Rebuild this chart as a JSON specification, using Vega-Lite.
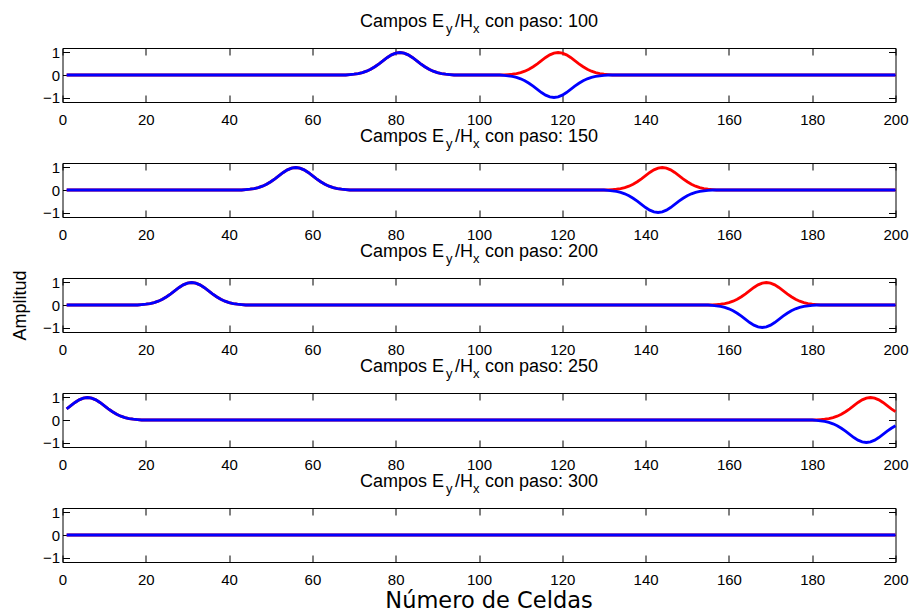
{
"$schema": "https://vega.github.io/schema/vega-lite/v6.json",
"background": "white",
"padding": {"left": 10.5, "top": 13, "right": 3, "bottom": 0},
"spacing": 61,
"bounds": "flush",
"datasets": {"curves": [
{"p":100,"c":"E","x":1,"v":0},
{"p":100,"c":"E","x":68,"v":0},{"p":100,"c":"E","x":69,"v":0.018},{"p":100,"c":"E","x":70,"v":0.035},{"p":100,"c":"E","x":71,"v":0.062},{"p":100,"c":"E","x":72,"v":0.105},{"p":100,"c":"E","x":73,"v":0.169},{"p":100,"c":"E","x":74,"v":0.256},{"p":100,"c":"E","x":75,"v":0.368},{"p":100,"c":"E","x":76,"v":0.499},{"p":100,"c":"E","x":77,"v":0.641},{"p":100,"c":"E","x":78,"v":0.779},{"p":100,"c":"E","x":79,"v":0.895},{"p":100,"c":"E","x":80,"v":0.973},{"p":100,"c":"E","x":81,"v":1},{"p":100,"c":"E","x":82,"v":0.973},{"p":100,"c":"E","x":83,"v":0.895},{"p":100,"c":"E","x":84,"v":0.779},{"p":100,"c":"E","x":85,"v":0.641},{"p":100,"c":"E","x":86,"v":0.499},{"p":100,"c":"E","x":87,"v":0.368},{"p":100,"c":"E","x":88,"v":0.256},{"p":100,"c":"E","x":89,"v":0.169},{"p":100,"c":"E","x":90,"v":0.105},{"p":100,"c":"E","x":91,"v":0.062},{"p":100,"c":"E","x":92,"v":0.035},{"p":100,"c":"E","x":93,"v":0.018},{"p":100,"c":"E","x":94,"v":0},
{"p":100,"c":"E","x":106,"v":0},{"p":100,"c":"E","x":107,"v":0.018},{"p":100,"c":"E","x":108,"v":0.035},{"p":100,"c":"E","x":109,"v":0.062},{"p":100,"c":"E","x":110,"v":0.105},{"p":100,"c":"E","x":111,"v":0.169},{"p":100,"c":"E","x":112,"v":0.256},{"p":100,"c":"E","x":113,"v":0.368},{"p":100,"c":"E","x":114,"v":0.499},{"p":100,"c":"E","x":115,"v":0.641},{"p":100,"c":"E","x":116,"v":0.779},{"p":100,"c":"E","x":117,"v":0.895},{"p":100,"c":"E","x":118,"v":0.973},{"p":100,"c":"E","x":119,"v":1},{"p":100,"c":"E","x":120,"v":0.973},{"p":100,"c":"E","x":121,"v":0.895},{"p":100,"c":"E","x":122,"v":0.779},{"p":100,"c":"E","x":123,"v":0.641},{"p":100,"c":"E","x":124,"v":0.499},{"p":100,"c":"E","x":125,"v":0.368},{"p":100,"c":"E","x":126,"v":0.256},{"p":100,"c":"E","x":127,"v":0.169},{"p":100,"c":"E","x":128,"v":0.105},{"p":100,"c":"E","x":129,"v":0.062},{"p":100,"c":"E","x":130,"v":0.035},{"p":100,"c":"E","x":131,"v":0.018},{"p":100,"c":"E","x":132,"v":0},
{"p":100,"c":"E","x":200,"v":0},
{"p":100,"c":"H","x":1,"v":0},
{"p":100,"c":"H","x":68,"v":0},{"p":100,"c":"H","x":69,"v":0.018},{"p":100,"c":"H","x":70,"v":0.035},{"p":100,"c":"H","x":71,"v":0.062},{"p":100,"c":"H","x":72,"v":0.105},{"p":100,"c":"H","x":73,"v":0.169},{"p":100,"c":"H","x":74,"v":0.256},{"p":100,"c":"H","x":75,"v":0.368},{"p":100,"c":"H","x":76,"v":0.499},{"p":100,"c":"H","x":77,"v":0.641},{"p":100,"c":"H","x":78,"v":0.779},{"p":100,"c":"H","x":79,"v":0.895},{"p":100,"c":"H","x":80,"v":0.973},{"p":100,"c":"H","x":81,"v":1},{"p":100,"c":"H","x":82,"v":0.973},{"p":100,"c":"H","x":83,"v":0.895},{"p":100,"c":"H","x":84,"v":0.779},{"p":100,"c":"H","x":85,"v":0.641},{"p":100,"c":"H","x":86,"v":0.499},{"p":100,"c":"H","x":87,"v":0.368},{"p":100,"c":"H","x":88,"v":0.256},{"p":100,"c":"H","x":89,"v":0.169},{"p":100,"c":"H","x":90,"v":0.105},{"p":100,"c":"H","x":91,"v":0.062},{"p":100,"c":"H","x":92,"v":0.035},{"p":100,"c":"H","x":93,"v":0.018},{"p":100,"c":"H","x":94,"v":0},
{"p":100,"c":"H","x":105,"v":0},{"p":100,"c":"H","x":106,"v":-0.018},{"p":100,"c":"H","x":107,"v":-0.035},{"p":100,"c":"H","x":108,"v":-0.062},{"p":100,"c":"H","x":109,"v":-0.105},{"p":100,"c":"H","x":110,"v":-0.169},{"p":100,"c":"H","x":111,"v":-0.256},{"p":100,"c":"H","x":112,"v":-0.368},{"p":100,"c":"H","x":113,"v":-0.499},{"p":100,"c":"H","x":114,"v":-0.641},{"p":100,"c":"H","x":115,"v":-0.779},{"p":100,"c":"H","x":116,"v":-0.895},{"p":100,"c":"H","x":117,"v":-0.973},{"p":100,"c":"H","x":118,"v":-1},{"p":100,"c":"H","x":119,"v":-0.973},{"p":100,"c":"H","x":120,"v":-0.895},{"p":100,"c":"H","x":121,"v":-0.779},{"p":100,"c":"H","x":122,"v":-0.641},{"p":100,"c":"H","x":123,"v":-0.499},{"p":100,"c":"H","x":124,"v":-0.368},{"p":100,"c":"H","x":125,"v":-0.256},{"p":100,"c":"H","x":126,"v":-0.169},{"p":100,"c":"H","x":127,"v":-0.105},{"p":100,"c":"H","x":128,"v":-0.062},{"p":100,"c":"H","x":129,"v":-0.035},{"p":100,"c":"H","x":130,"v":-0.018},{"p":100,"c":"H","x":131,"v":0},
{"p":100,"c":"H","x":200,"v":0},
{"p":150,"c":"E","x":1,"v":0},
{"p":150,"c":"E","x":43,"v":0},{"p":150,"c":"E","x":44,"v":0.018},{"p":150,"c":"E","x":45,"v":0.035},{"p":150,"c":"E","x":46,"v":0.062},{"p":150,"c":"E","x":47,"v":0.105},{"p":150,"c":"E","x":48,"v":0.169},{"p":150,"c":"E","x":49,"v":0.256},{"p":150,"c":"E","x":50,"v":0.368},{"p":150,"c":"E","x":51,"v":0.499},{"p":150,"c":"E","x":52,"v":0.641},{"p":150,"c":"E","x":53,"v":0.779},{"p":150,"c":"E","x":54,"v":0.895},{"p":150,"c":"E","x":55,"v":0.973},{"p":150,"c":"E","x":56,"v":1},{"p":150,"c":"E","x":57,"v":0.973},{"p":150,"c":"E","x":58,"v":0.895},{"p":150,"c":"E","x":59,"v":0.779},{"p":150,"c":"E","x":60,"v":0.641},{"p":150,"c":"E","x":61,"v":0.499},{"p":150,"c":"E","x":62,"v":0.368},{"p":150,"c":"E","x":63,"v":0.256},{"p":150,"c":"E","x":64,"v":0.169},{"p":150,"c":"E","x":65,"v":0.105},{"p":150,"c":"E","x":66,"v":0.062},{"p":150,"c":"E","x":67,"v":0.035},{"p":150,"c":"E","x":68,"v":0.018},{"p":150,"c":"E","x":69,"v":0},
{"p":150,"c":"E","x":131,"v":0},{"p":150,"c":"E","x":132,"v":0.018},{"p":150,"c":"E","x":133,"v":0.035},{"p":150,"c":"E","x":134,"v":0.062},{"p":150,"c":"E","x":135,"v":0.105},{"p":150,"c":"E","x":136,"v":0.169},{"p":150,"c":"E","x":137,"v":0.256},{"p":150,"c":"E","x":138,"v":0.368},{"p":150,"c":"E","x":139,"v":0.499},{"p":150,"c":"E","x":140,"v":0.641},{"p":150,"c":"E","x":141,"v":0.779},{"p":150,"c":"E","x":142,"v":0.895},{"p":150,"c":"E","x":143,"v":0.973},{"p":150,"c":"E","x":144,"v":1},{"p":150,"c":"E","x":145,"v":0.973},{"p":150,"c":"E","x":146,"v":0.895},{"p":150,"c":"E","x":147,"v":0.779},{"p":150,"c":"E","x":148,"v":0.641},{"p":150,"c":"E","x":149,"v":0.499},{"p":150,"c":"E","x":150,"v":0.368},{"p":150,"c":"E","x":151,"v":0.256},{"p":150,"c":"E","x":152,"v":0.169},{"p":150,"c":"E","x":153,"v":0.105},{"p":150,"c":"E","x":154,"v":0.062},{"p":150,"c":"E","x":155,"v":0.035},{"p":150,"c":"E","x":156,"v":0.018},{"p":150,"c":"E","x":157,"v":0},
{"p":150,"c":"E","x":200,"v":0},
{"p":150,"c":"H","x":1,"v":0},
{"p":150,"c":"H","x":43,"v":0},{"p":150,"c":"H","x":44,"v":0.018},{"p":150,"c":"H","x":45,"v":0.035},{"p":150,"c":"H","x":46,"v":0.062},{"p":150,"c":"H","x":47,"v":0.105},{"p":150,"c":"H","x":48,"v":0.169},{"p":150,"c":"H","x":49,"v":0.256},{"p":150,"c":"H","x":50,"v":0.368},{"p":150,"c":"H","x":51,"v":0.499},{"p":150,"c":"H","x":52,"v":0.641},{"p":150,"c":"H","x":53,"v":0.779},{"p":150,"c":"H","x":54,"v":0.895},{"p":150,"c":"H","x":55,"v":0.973},{"p":150,"c":"H","x":56,"v":1},{"p":150,"c":"H","x":57,"v":0.973},{"p":150,"c":"H","x":58,"v":0.895},{"p":150,"c":"H","x":59,"v":0.779},{"p":150,"c":"H","x":60,"v":0.641},{"p":150,"c":"H","x":61,"v":0.499},{"p":150,"c":"H","x":62,"v":0.368},{"p":150,"c":"H","x":63,"v":0.256},{"p":150,"c":"H","x":64,"v":0.169},{"p":150,"c":"H","x":65,"v":0.105},{"p":150,"c":"H","x":66,"v":0.062},{"p":150,"c":"H","x":67,"v":0.035},{"p":150,"c":"H","x":68,"v":0.018},{"p":150,"c":"H","x":69,"v":0},
{"p":150,"c":"H","x":130,"v":0},{"p":150,"c":"H","x":131,"v":-0.018},{"p":150,"c":"H","x":132,"v":-0.035},{"p":150,"c":"H","x":133,"v":-0.062},{"p":150,"c":"H","x":134,"v":-0.105},{"p":150,"c":"H","x":135,"v":-0.169},{"p":150,"c":"H","x":136,"v":-0.256},{"p":150,"c":"H","x":137,"v":-0.368},{"p":150,"c":"H","x":138,"v":-0.499},{"p":150,"c":"H","x":139,"v":-0.641},{"p":150,"c":"H","x":140,"v":-0.779},{"p":150,"c":"H","x":141,"v":-0.895},{"p":150,"c":"H","x":142,"v":-0.973},{"p":150,"c":"H","x":143,"v":-1},{"p":150,"c":"H","x":144,"v":-0.973},{"p":150,"c":"H","x":145,"v":-0.895},{"p":150,"c":"H","x":146,"v":-0.779},{"p":150,"c":"H","x":147,"v":-0.641},{"p":150,"c":"H","x":148,"v":-0.499},{"p":150,"c":"H","x":149,"v":-0.368},{"p":150,"c":"H","x":150,"v":-0.256},{"p":150,"c":"H","x":151,"v":-0.169},{"p":150,"c":"H","x":152,"v":-0.105},{"p":150,"c":"H","x":153,"v":-0.062},{"p":150,"c":"H","x":154,"v":-0.035},{"p":150,"c":"H","x":155,"v":-0.018},{"p":150,"c":"H","x":156,"v":0},
{"p":150,"c":"H","x":200,"v":0},
{"p":200,"c":"E","x":1,"v":0},
{"p":200,"c":"E","x":18,"v":0},{"p":200,"c":"E","x":19,"v":0.018},{"p":200,"c":"E","x":20,"v":0.035},{"p":200,"c":"E","x":21,"v":0.062},{"p":200,"c":"E","x":22,"v":0.105},{"p":200,"c":"E","x":23,"v":0.169},{"p":200,"c":"E","x":24,"v":0.256},{"p":200,"c":"E","x":25,"v":0.368},{"p":200,"c":"E","x":26,"v":0.499},{"p":200,"c":"E","x":27,"v":0.641},{"p":200,"c":"E","x":28,"v":0.779},{"p":200,"c":"E","x":29,"v":0.895},{"p":200,"c":"E","x":30,"v":0.973},{"p":200,"c":"E","x":31,"v":1},{"p":200,"c":"E","x":32,"v":0.973},{"p":200,"c":"E","x":33,"v":0.895},{"p":200,"c":"E","x":34,"v":0.779},{"p":200,"c":"E","x":35,"v":0.641},{"p":200,"c":"E","x":36,"v":0.499},{"p":200,"c":"E","x":37,"v":0.368},{"p":200,"c":"E","x":38,"v":0.256},{"p":200,"c":"E","x":39,"v":0.169},{"p":200,"c":"E","x":40,"v":0.105},{"p":200,"c":"E","x":41,"v":0.062},{"p":200,"c":"E","x":42,"v":0.035},{"p":200,"c":"E","x":43,"v":0.018},{"p":200,"c":"E","x":44,"v":0},
{"p":200,"c":"E","x":156,"v":0},{"p":200,"c":"E","x":157,"v":0.018},{"p":200,"c":"E","x":158,"v":0.035},{"p":200,"c":"E","x":159,"v":0.062},{"p":200,"c":"E","x":160,"v":0.105},{"p":200,"c":"E","x":161,"v":0.169},{"p":200,"c":"E","x":162,"v":0.256},{"p":200,"c":"E","x":163,"v":0.368},{"p":200,"c":"E","x":164,"v":0.499},{"p":200,"c":"E","x":165,"v":0.641},{"p":200,"c":"E","x":166,"v":0.779},{"p":200,"c":"E","x":167,"v":0.895},{"p":200,"c":"E","x":168,"v":0.973},{"p":200,"c":"E","x":169,"v":1},{"p":200,"c":"E","x":170,"v":0.973},{"p":200,"c":"E","x":171,"v":0.895},{"p":200,"c":"E","x":172,"v":0.779},{"p":200,"c":"E","x":173,"v":0.641},{"p":200,"c":"E","x":174,"v":0.499},{"p":200,"c":"E","x":175,"v":0.368},{"p":200,"c":"E","x":176,"v":0.256},{"p":200,"c":"E","x":177,"v":0.169},{"p":200,"c":"E","x":178,"v":0.105},{"p":200,"c":"E","x":179,"v":0.062},{"p":200,"c":"E","x":180,"v":0.035},{"p":200,"c":"E","x":181,"v":0.018},{"p":200,"c":"E","x":182,"v":0},
{"p":200,"c":"E","x":200,"v":0},
{"p":200,"c":"H","x":1,"v":0},
{"p":200,"c":"H","x":18,"v":0},{"p":200,"c":"H","x":19,"v":0.018},{"p":200,"c":"H","x":20,"v":0.035},{"p":200,"c":"H","x":21,"v":0.062},{"p":200,"c":"H","x":22,"v":0.105},{"p":200,"c":"H","x":23,"v":0.169},{"p":200,"c":"H","x":24,"v":0.256},{"p":200,"c":"H","x":25,"v":0.368},{"p":200,"c":"H","x":26,"v":0.499},{"p":200,"c":"H","x":27,"v":0.641},{"p":200,"c":"H","x":28,"v":0.779},{"p":200,"c":"H","x":29,"v":0.895},{"p":200,"c":"H","x":30,"v":0.973},{"p":200,"c":"H","x":31,"v":1},{"p":200,"c":"H","x":32,"v":0.973},{"p":200,"c":"H","x":33,"v":0.895},{"p":200,"c":"H","x":34,"v":0.779},{"p":200,"c":"H","x":35,"v":0.641},{"p":200,"c":"H","x":36,"v":0.499},{"p":200,"c":"H","x":37,"v":0.368},{"p":200,"c":"H","x":38,"v":0.256},{"p":200,"c":"H","x":39,"v":0.169},{"p":200,"c":"H","x":40,"v":0.105},{"p":200,"c":"H","x":41,"v":0.062},{"p":200,"c":"H","x":42,"v":0.035},{"p":200,"c":"H","x":43,"v":0.018},{"p":200,"c":"H","x":44,"v":0},
{"p":200,"c":"H","x":155,"v":0},{"p":200,"c":"H","x":156,"v":-0.018},{"p":200,"c":"H","x":157,"v":-0.035},{"p":200,"c":"H","x":158,"v":-0.062},{"p":200,"c":"H","x":159,"v":-0.105},{"p":200,"c":"H","x":160,"v":-0.169},{"p":200,"c":"H","x":161,"v":-0.256},{"p":200,"c":"H","x":162,"v":-0.368},{"p":200,"c":"H","x":163,"v":-0.499},{"p":200,"c":"H","x":164,"v":-0.641},{"p":200,"c":"H","x":165,"v":-0.779},{"p":200,"c":"H","x":166,"v":-0.895},{"p":200,"c":"H","x":167,"v":-0.973},{"p":200,"c":"H","x":168,"v":-1},{"p":200,"c":"H","x":169,"v":-0.973},{"p":200,"c":"H","x":170,"v":-0.895},{"p":200,"c":"H","x":171,"v":-0.779},{"p":200,"c":"H","x":172,"v":-0.641},{"p":200,"c":"H","x":173,"v":-0.499},{"p":200,"c":"H","x":174,"v":-0.368},{"p":200,"c":"H","x":175,"v":-0.256},{"p":200,"c":"H","x":176,"v":-0.169},{"p":200,"c":"H","x":177,"v":-0.105},{"p":200,"c":"H","x":178,"v":-0.062},{"p":200,"c":"H","x":179,"v":-0.035},{"p":200,"c":"H","x":180,"v":-0.018},{"p":200,"c":"H","x":181,"v":0},
{"p":200,"c":"H","x":200,"v":0},
{"p":250,"c":"E","x":1,"v":0.499},{"p":250,"c":"E","x":2,"v":0.641},{"p":250,"c":"E","x":3,"v":0.779},{"p":250,"c":"E","x":4,"v":0.895},{"p":250,"c":"E","x":5,"v":0.973},{"p":250,"c":"E","x":6,"v":1},{"p":250,"c":"E","x":7,"v":0.973},{"p":250,"c":"E","x":8,"v":0.895},{"p":250,"c":"E","x":9,"v":0.779},{"p":250,"c":"E","x":10,"v":0.641},{"p":250,"c":"E","x":11,"v":0.499},{"p":250,"c":"E","x":12,"v":0.368},{"p":250,"c":"E","x":13,"v":0.256},{"p":250,"c":"E","x":14,"v":0.169},{"p":250,"c":"E","x":15,"v":0.105},{"p":250,"c":"E","x":16,"v":0.062},{"p":250,"c":"E","x":17,"v":0.035},{"p":250,"c":"E","x":18,"v":0.018},{"p":250,"c":"E","x":19,"v":0},
{"p":250,"c":"E","x":181,"v":0},{"p":250,"c":"E","x":182,"v":0.018},{"p":250,"c":"E","x":183,"v":0.035},{"p":250,"c":"E","x":184,"v":0.062},{"p":250,"c":"E","x":185,"v":0.105},{"p":250,"c":"E","x":186,"v":0.169},{"p":250,"c":"E","x":187,"v":0.256},{"p":250,"c":"E","x":188,"v":0.368},{"p":250,"c":"E","x":189,"v":0.499},{"p":250,"c":"E","x":190,"v":0.641},{"p":250,"c":"E","x":191,"v":0.779},{"p":250,"c":"E","x":192,"v":0.895},{"p":250,"c":"E","x":193,"v":0.973},{"p":250,"c":"E","x":194,"v":1},{"p":250,"c":"E","x":195,"v":0.973},{"p":250,"c":"E","x":196,"v":0.895},{"p":250,"c":"E","x":197,"v":0.779},{"p":250,"c":"E","x":198,"v":0.641},{"p":250,"c":"E","x":199,"v":0.499},{"p":250,"c":"E","x":200,"v":0.368},
{"p":250,"c":"H","x":1,"v":0.499},{"p":250,"c":"H","x":2,"v":0.641},{"p":250,"c":"H","x":3,"v":0.779},{"p":250,"c":"H","x":4,"v":0.895},{"p":250,"c":"H","x":5,"v":0.973},{"p":250,"c":"H","x":6,"v":1},{"p":250,"c":"H","x":7,"v":0.973},{"p":250,"c":"H","x":8,"v":0.895},{"p":250,"c":"H","x":9,"v":0.779},{"p":250,"c":"H","x":10,"v":0.641},{"p":250,"c":"H","x":11,"v":0.499},{"p":250,"c":"H","x":12,"v":0.368},{"p":250,"c":"H","x":13,"v":0.256},{"p":250,"c":"H","x":14,"v":0.169},{"p":250,"c":"H","x":15,"v":0.105},{"p":250,"c":"H","x":16,"v":0.062},{"p":250,"c":"H","x":17,"v":0.035},{"p":250,"c":"H","x":18,"v":0.018},{"p":250,"c":"H","x":19,"v":0},
{"p":250,"c":"H","x":180,"v":0},{"p":250,"c":"H","x":181,"v":-0.018},{"p":250,"c":"H","x":182,"v":-0.035},{"p":250,"c":"H","x":183,"v":-0.062},{"p":250,"c":"H","x":184,"v":-0.105},{"p":250,"c":"H","x":185,"v":-0.169},{"p":250,"c":"H","x":186,"v":-0.256},{"p":250,"c":"H","x":187,"v":-0.368},{"p":250,"c":"H","x":188,"v":-0.499},{"p":250,"c":"H","x":189,"v":-0.641},{"p":250,"c":"H","x":190,"v":-0.779},{"p":250,"c":"H","x":191,"v":-0.895},{"p":250,"c":"H","x":192,"v":-0.973},{"p":250,"c":"H","x":193,"v":-1},{"p":250,"c":"H","x":194,"v":-0.973},{"p":250,"c":"H","x":195,"v":-0.895},{"p":250,"c":"H","x":196,"v":-0.779},{"p":250,"c":"H","x":197,"v":-0.641},{"p":250,"c":"H","x":198,"v":-0.499},{"p":250,"c":"H","x":199,"v":-0.368},{"p":250,"c":"H","x":200,"v":-0.256},
{"p":300,"c":"E","x":1,"v":0},{"p":300,"c":"E","x":200,"v":0},
{"p":300,"c":"H","x":1,"v":0},{"p":300,"c":"H","x":200,"v":0}
]},
"vconcat": [
{"width": 833, "height": 54, "resolve": {"axis": {"x": "independent", "y": "independent"}},
 "layer": [
  {"data": {"name": "curves"}, "transform": [{"filter": "datum.p == 100 && datum.c == 'E'"}], "mark": {"type": "line", "color": "#ff0000", "strokeWidth": 2.8},
   "encoding": {"x": {"field": "x", "type": "quantitative", "scale": {"domain": [0, 200], "nice": false, "zero": false}, "axis": {"orient": "bottom", "values": [0,20,40,60,80,100,120,140,160,180,200], "title": null, "labelPadding": 17}},
                "y": {"field": "v", "type": "quantitative", "scale": {"domain": [-1.2, 1.2], "nice": false, "zero": false}, "axis": {"orient": "left", "values": [-1,0,1], "title": null}}}},
  {"data": {"name": "curves"}, "transform": [{"filter": "datum.p == 100 && datum.c == 'H'"}], "mark": {"type": "line", "color": "#0000ff", "strokeWidth": 2.8},
   "encoding": {"x": {"field": "x", "type": "quantitative", "axis": null}, "y": {"field": "v", "type": "quantitative", "axis": null}}},
  {"data": {"values": [{}]}, "mark": {"type": "text", "text": "Campos E", "align": "left", "baseline": "alphabetic", "dx": -119, "dy": -20.7, "fontSize": 18},
   "encoding": {"x": {"datum": 100, "type": "quantitative", "axis": {"orient": "top", "labels": false, "values": [0,20,40,60,80,100,120,140,160,180,200], "title": null}},
                "y": {"datum": 1.2, "type": "quantitative", "axis": {"orient": "right", "labels": false, "values": [-1,0,1], "title": null}}}},
  {"data": {"values": [{}]}, "mark": {"type": "text", "text": "y", "align": "left", "baseline": "alphabetic", "dx": -33, "dy": -15.2, "fontSize": 13},
   "encoding": {"x": {"datum": 100, "type": "quantitative", "axis": null}, "y": {"datum": 1.2, "type": "quantitative", "axis": null}}},
  {"data": {"values": [{}]}, "mark": {"type": "text", "text": "/H", "align": "left", "baseline": "alphabetic", "dx": -24, "dy": -20.7, "fontSize": 18},
   "encoding": {"x": {"datum": 100, "type": "quantitative", "axis": null}, "y": {"datum": 1.2, "type": "quantitative", "axis": null}}},
  {"data": {"values": [{}]}, "mark": {"type": "text", "text": "x", "align": "left", "baseline": "alphabetic", "dx": -6, "dy": -15.2, "fontSize": 13},
   "encoding": {"x": {"datum": 100, "type": "quantitative", "axis": null}, "y": {"datum": 1.2, "type": "quantitative", "axis": null}}},
  {"data": {"values": [{}]}, "mark": {"type": "text", "text": "con paso: 100", "align": "left", "baseline": "alphabetic", "dx": 6, "dy": -20.7, "fontSize": 18},
   "encoding": {"x": {"datum": 100, "type": "quantitative", "axis": null}, "y": {"datum": 1.2, "type": "quantitative", "axis": null}}}
 ]},
{"width": 833, "height": 54, "resolve": {"axis": {"x": "independent", "y": "independent"}},
 "layer": [
  {"data": {"name": "curves"}, "transform": [{"filter": "datum.p == 150 && datum.c == 'E'"}], "mark": {"type": "line", "color": "#ff0000", "strokeWidth": 2.8},
   "encoding": {"x": {"field": "x", "type": "quantitative", "scale": {"domain": [0, 200], "nice": false, "zero": false}, "axis": {"orient": "bottom", "values": [0,20,40,60,80,100,120,140,160,180,200], "title": null, "labelPadding": 17}},
                "y": {"field": "v", "type": "quantitative", "scale": {"domain": [-1.2, 1.2], "nice": false, "zero": false}, "axis": {"orient": "left", "values": [-1,0,1], "title": null}}}},
  {"data": {"name": "curves"}, "transform": [{"filter": "datum.p == 150 && datum.c == 'H'"}], "mark": {"type": "line", "color": "#0000ff", "strokeWidth": 2.8},
   "encoding": {"x": {"field": "x", "type": "quantitative", "axis": null}, "y": {"field": "v", "type": "quantitative", "axis": null}}},
  {"data": {"values": [{}]}, "mark": {"type": "text", "text": "Campos E", "align": "left", "baseline": "alphabetic", "dx": -119, "dy": -20.7, "fontSize": 18},
   "encoding": {"x": {"datum": 100, "type": "quantitative", "axis": {"orient": "top", "labels": false, "values": [0,20,40,60,80,100,120,140,160,180,200], "title": null}},
                "y": {"datum": 1.2, "type": "quantitative", "axis": {"orient": "right", "labels": false, "values": [-1,0,1], "title": null}}}},
  {"data": {"values": [{}]}, "mark": {"type": "text", "text": "y", "align": "left", "baseline": "alphabetic", "dx": -33, "dy": -15.2, "fontSize": 13},
   "encoding": {"x": {"datum": 100, "type": "quantitative", "axis": null}, "y": {"datum": 1.2, "type": "quantitative", "axis": null}}},
  {"data": {"values": [{}]}, "mark": {"type": "text", "text": "/H", "align": "left", "baseline": "alphabetic", "dx": -24, "dy": -20.7, "fontSize": 18},
   "encoding": {"x": {"datum": 100, "type": "quantitative", "axis": null}, "y": {"datum": 1.2, "type": "quantitative", "axis": null}}},
  {"data": {"values": [{}]}, "mark": {"type": "text", "text": "x", "align": "left", "baseline": "alphabetic", "dx": -6, "dy": -15.2, "fontSize": 13},
   "encoding": {"x": {"datum": 100, "type": "quantitative", "axis": null}, "y": {"datum": 1.2, "type": "quantitative", "axis": null}}},
  {"data": {"values": [{}]}, "mark": {"type": "text", "text": "con paso: 150", "align": "left", "baseline": "alphabetic", "dx": 6, "dy": -20.7, "fontSize": 18},
   "encoding": {"x": {"datum": 100, "type": "quantitative", "axis": null}, "y": {"datum": 1.2, "type": "quantitative", "axis": null}}}
 ]},
{"width": 833, "height": 54, "resolve": {"axis": {"x": "independent", "y": "independent"}},
 "layer": [
  {"data": {"name": "curves"}, "transform": [{"filter": "datum.p == 200 && datum.c == 'E'"}], "mark": {"type": "line", "color": "#ff0000", "strokeWidth": 2.8},
   "encoding": {"x": {"field": "x", "type": "quantitative", "scale": {"domain": [0, 200], "nice": false, "zero": false}, "axis": {"orient": "bottom", "values": [0,20,40,60,80,100,120,140,160,180,200], "title": null, "labelPadding": 17}},
                "y": {"field": "v", "type": "quantitative", "scale": {"domain": [-1.2, 1.2], "nice": false, "zero": false}, "axis": {"orient": "left", "values": [-1,0,1], "title": "Amplitud", "titlePadding": 13}}}},
  {"data": {"name": "curves"}, "transform": [{"filter": "datum.p == 200 && datum.c == 'H'"}], "mark": {"type": "line", "color": "#0000ff", "strokeWidth": 2.8},
   "encoding": {"x": {"field": "x", "type": "quantitative", "axis": null}, "y": {"field": "v", "type": "quantitative", "axis": null}}},
  {"data": {"values": [{}]}, "mark": {"type": "text", "text": "Campos E", "align": "left", "baseline": "alphabetic", "dx": -119, "dy": -20.7, "fontSize": 18},
   "encoding": {"x": {"datum": 100, "type": "quantitative", "axis": {"orient": "top", "labels": false, "values": [0,20,40,60,80,100,120,140,160,180,200], "title": null}},
                "y": {"datum": 1.2, "type": "quantitative", "axis": {"orient": "right", "labels": false, "values": [-1,0,1], "title": null}}}},
  {"data": {"values": [{}]}, "mark": {"type": "text", "text": "y", "align": "left", "baseline": "alphabetic", "dx": -33, "dy": -15.2, "fontSize": 13},
   "encoding": {"x": {"datum": 100, "type": "quantitative", "axis": null}, "y": {"datum": 1.2, "type": "quantitative", "axis": null}}},
  {"data": {"values": [{}]}, "mark": {"type": "text", "text": "/H", "align": "left", "baseline": "alphabetic", "dx": -24, "dy": -20.7, "fontSize": 18},
   "encoding": {"x": {"datum": 100, "type": "quantitative", "axis": null}, "y": {"datum": 1.2, "type": "quantitative", "axis": null}}},
  {"data": {"values": [{}]}, "mark": {"type": "text", "text": "x", "align": "left", "baseline": "alphabetic", "dx": -6, "dy": -15.2, "fontSize": 13},
   "encoding": {"x": {"datum": 100, "type": "quantitative", "axis": null}, "y": {"datum": 1.2, "type": "quantitative", "axis": null}}},
  {"data": {"values": [{}]}, "mark": {"type": "text", "text": "con paso: 200", "align": "left", "baseline": "alphabetic", "dx": 6, "dy": -20.7, "fontSize": 18},
   "encoding": {"x": {"datum": 100, "type": "quantitative", "axis": null}, "y": {"datum": 1.2, "type": "quantitative", "axis": null}}}
 ]},
{"width": 833, "height": 54, "resolve": {"axis": {"x": "independent", "y": "independent"}},
 "layer": [
  {"data": {"name": "curves"}, "transform": [{"filter": "datum.p == 250 && datum.c == 'E'"}], "mark": {"type": "line", "color": "#ff0000", "strokeWidth": 2.8},
   "encoding": {"x": {"field": "x", "type": "quantitative", "scale": {"domain": [0, 200], "nice": false, "zero": false}, "axis": {"orient": "bottom", "values": [0,20,40,60,80,100,120,140,160,180,200], "title": null, "labelPadding": 17}},
                "y": {"field": "v", "type": "quantitative", "scale": {"domain": [-1.2, 1.2], "nice": false, "zero": false}, "axis": {"orient": "left", "values": [-1,0,1], "title": null}}}},
  {"data": {"name": "curves"}, "transform": [{"filter": "datum.p == 250 && datum.c == 'H'"}], "mark": {"type": "line", "color": "#0000ff", "strokeWidth": 2.8},
   "encoding": {"x": {"field": "x", "type": "quantitative", "axis": null}, "y": {"field": "v", "type": "quantitative", "axis": null}}},
  {"data": {"values": [{}]}, "mark": {"type": "text", "text": "Campos E", "align": "left", "baseline": "alphabetic", "dx": -119, "dy": -20.7, "fontSize": 18},
   "encoding": {"x": {"datum": 100, "type": "quantitative", "axis": {"orient": "top", "labels": false, "values": [0,20,40,60,80,100,120,140,160,180,200], "title": null}},
                "y": {"datum": 1.2, "type": "quantitative", "axis": {"orient": "right", "labels": false, "values": [-1,0,1], "title": null}}}},
  {"data": {"values": [{}]}, "mark": {"type": "text", "text": "y", "align": "left", "baseline": "alphabetic", "dx": -33, "dy": -15.2, "fontSize": 13},
   "encoding": {"x": {"datum": 100, "type": "quantitative", "axis": null}, "y": {"datum": 1.2, "type": "quantitative", "axis": null}}},
  {"data": {"values": [{}]}, "mark": {"type": "text", "text": "/H", "align": "left", "baseline": "alphabetic", "dx": -24, "dy": -20.7, "fontSize": 18},
   "encoding": {"x": {"datum": 100, "type": "quantitative", "axis": null}, "y": {"datum": 1.2, "type": "quantitative", "axis": null}}},
  {"data": {"values": [{}]}, "mark": {"type": "text", "text": "x", "align": "left", "baseline": "alphabetic", "dx": -6, "dy": -15.2, "fontSize": 13},
   "encoding": {"x": {"datum": 100, "type": "quantitative", "axis": null}, "y": {"datum": 1.2, "type": "quantitative", "axis": null}}},
  {"data": {"values": [{}]}, "mark": {"type": "text", "text": "con paso: 250", "align": "left", "baseline": "alphabetic", "dx": 6, "dy": -20.7, "fontSize": 18},
   "encoding": {"x": {"datum": 100, "type": "quantitative", "axis": null}, "y": {"datum": 1.2, "type": "quantitative", "axis": null}}}
 ]},
{"width": 833, "height": 54, "resolve": {"axis": {"x": "independent", "y": "independent"}},
 "layer": [
  {"data": {"name": "curves"}, "transform": [{"filter": "datum.p == 300 && datum.c == 'E'"}], "mark": {"type": "line", "color": "#ff0000", "strokeWidth": 2.8},
   "encoding": {"x": {"field": "x", "type": "quantitative", "scale": {"domain": [0, 200], "nice": false, "zero": false}, "axis": {"orient": "bottom", "values": [0,20,40,60,80,100,120,140,160,180,200], "labelPadding": 17, "title": "Número de Celdas", "titleFont": "DejaVu Sans", "titleFontSize": 22.5, "titlePadding": 2.5, "titleX": 426}},
                "y": {"field": "v", "type": "quantitative", "scale": {"domain": [-1.2, 1.2], "nice": false, "zero": false}, "axis": {"orient": "left", "values": [-1,0,1], "title": null}}}},
  {"data": {"name": "curves"}, "transform": [{"filter": "datum.p == 300 && datum.c == 'H'"}], "mark": {"type": "line", "color": "#0000ff", "strokeWidth": 2.8},
   "encoding": {"x": {"field": "x", "type": "quantitative", "axis": null}, "y": {"field": "v", "type": "quantitative", "axis": null}}},
  {"data": {"values": [{}]}, "mark": {"type": "text", "text": "Campos E", "align": "left", "baseline": "alphabetic", "dx": -119, "dy": -20.7, "fontSize": 18},
   "encoding": {"x": {"datum": 100, "type": "quantitative", "axis": {"orient": "top", "labels": false, "values": [0,20,40,60,80,100,120,140,160,180,200], "title": null}},
                "y": {"datum": 1.2, "type": "quantitative", "axis": {"orient": "right", "labels": false, "values": [-1,0,1], "title": null}}}},
  {"data": {"values": [{}]}, "mark": {"type": "text", "text": "y", "align": "left", "baseline": "alphabetic", "dx": -33, "dy": -15.2, "fontSize": 13},
   "encoding": {"x": {"datum": 100, "type": "quantitative", "axis": null}, "y": {"datum": 1.2, "type": "quantitative", "axis": null}}},
  {"data": {"values": [{}]}, "mark": {"type": "text", "text": "/H", "align": "left", "baseline": "alphabetic", "dx": -24, "dy": -20.7, "fontSize": 18},
   "encoding": {"x": {"datum": 100, "type": "quantitative", "axis": null}, "y": {"datum": 1.2, "type": "quantitative", "axis": null}}},
  {"data": {"values": [{}]}, "mark": {"type": "text", "text": "x", "align": "left", "baseline": "alphabetic", "dx": -6, "dy": -15.2, "fontSize": 13},
   "encoding": {"x": {"datum": 100, "type": "quantitative", "axis": null}, "y": {"datum": 1.2, "type": "quantitative", "axis": null}}},
  {"data": {"values": [{}]}, "mark": {"type": "text", "text": "con paso: 300", "align": "left", "baseline": "alphabetic", "dx": 6, "dy": -20.7, "fontSize": 18},
   "encoding": {"x": {"datum": 100, "type": "quantitative", "axis": null}, "y": {"datum": 1.2, "type": "quantitative", "axis": null}}}
 ]}
],
"config": {
  "view": {"stroke": null},
  "axis": {"grid": false, "domain": true, "domainColor": "#000000", "domainWidth": 1, "ticks": true, "tickColor": "#000000", "tickSize": -7, "tickWidth": 1,
           "labelFont": "Liberation Sans", "labelFontSize": 15, "labelColor": "#000000", "labelPadding": 10, "labelFlush": false,
           "titleFont": "Liberation Sans", "titleFontSize": 18, "titleFontWeight": "normal", "titleColor": "#000000", "titlePadding": 6},
  "text": {"font": "Liberation Sans", "color": "#000000"}
}
}
